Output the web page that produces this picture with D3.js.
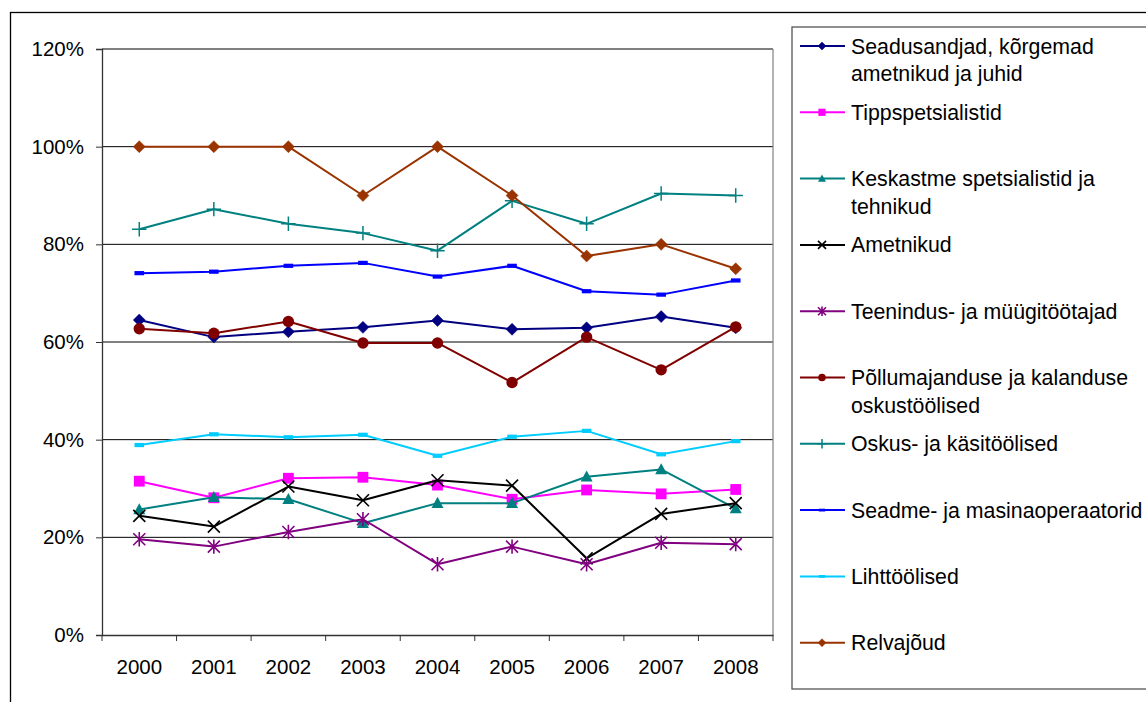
<!DOCTYPE html>
<html>
<head>
<meta charset="utf-8">
<script src="https://cdn.jsdelivr.net/npm/d3@7"></script>
<style>
  html, body { margin: 0; padding: 0; background: #fff; }
  svg { display: block; font-family: "Liberation Sans", Arial, sans-serif; }
</style>
</head>
<body>
<svg id="chart" width="1146" height="702"></svg>
<script>
// ---- data ----
const years = ["2000", "2001", "2002", "2003", "2004", "2005", "2006", "2007", "2008"];
const yTicks = [0, 0.2, 0.4, 0.6, 0.8, 1.0, 1.2];

const seadusandjad = [64.5, 61.0, 62.1, 63.0, 64.4, 62.6, 62.9, 65.2, 62.9];
const tippspetsialistid = [31.5, 28.1, 32.1, 32.3, 30.7, 27.8, 29.7, 28.9, 29.8];
const keskastme = [25.7, 28.2, 27.8, 22.9, 27.0, 27.0, 32.4, 33.9, 25.9];
const ametnikud = [24.4, 22.2, 30.4, 27.6, 31.7, 30.6, 15.7, 24.8, 27.0];
const teenindus = [19.6, 18.1, 21.1, 23.7, 14.5, 18.1, 14.5, 18.9, 18.6];
const pollumajandus = [62.7, 61.8, 64.2, 59.8, 59.8, 51.7, 61.0, 54.3, 63.1];
const oskus = [83.1, 87.2, 84.2, 82.3, 78.7, 88.9, 84.2, 90.4, 90.0];
const seadme = [74.1, 74.4, 75.6, 76.2, 73.4, 75.6, 70.4, 69.7, 72.6];
const lihttoolised = [38.9, 41.1, 40.5, 41.0, 36.7, 40.6, 41.8, 37.0, 39.7];
const relvajoud = [100, 100, 100, 90, 100, 90, 77.6, 80, 75];

const seriesNames = [
  ["Seadusandjad, kõrgemad", "ametnikud ja juhid"],
  ["Tippspetsialistid"],
  ["Keskastme spetsialistid ja", "tehnikud"],
  ["Ametnikud"],
  ["Teenindus- ja müügitöötajad"],
  ["Põllumajanduse ja kalanduse", "oskustöölised"],
  ["Oskus- ja käsitöölised"],
  ["Seadme- ja masinaoperaatorid"],
  ["Lihttöölised"],
  ["Relvajõud"]
];
const seriesValues = [seadusandjad, tippspetsialistid, keskastme, ametnikud, teenindus,
  pollumajandus, oskus, seadme, lihttoolised, relvajoud];
const seriesColors = ["#000080", "#FF00FF", "#008080", "#000000", "#800080",
  "#800000", "#008080", "#0000FF", "#00CCFF", "#993300"];
const seriesMarkers = ["diamond", "square", "triangle", "x", "asterisk",
  "circle", "plus", "dash", "dash", "diamond"];

// ---- layout ----
const svg = d3.select("#chart");
const plot = { left: 102, right: 773, top: 49, bottom: 635 };

const x = d3.scaleBand().domain(years).range([plot.left, plot.right]).paddingInner(0).paddingOuter(0);
const cx = d => x(d) + x.bandwidth() / 2;
const y = d3.scaleLinear().domain([0, 1.2]).range([plot.bottom, plot.top]);

// outer border
svg.append("rect").attr("x", 10.5).attr("y", 12.5).attr("width", 1200).attr("height", 800)
  .attr("fill", "none").attr("stroke", "#000").attr("stroke-width", 1.3);

// gridlines
svg.append("g").selectAll("line").data(yTicks.filter(t => t > 0)).join("line")
  .attr("x1", plot.left).attr("x2", plot.right)
  .attr("y1", d => y(d)).attr("y2", d => y(d))
  .attr("stroke", "#000").attr("stroke-width", 1);

// plot right border
svg.append("line").attr("x1", plot.right).attr("x2", plot.right)
  .attr("y1", plot.top).attr("y2", plot.bottom).attr("stroke", "#808080").attr("stroke-width", 1.2);

// y axis
const yAxis = svg.append("g").attr("transform", `translate(${plot.left},0)`)
  .call(d3.axisLeft(y).tickValues(yTicks).tickFormat(d3.format(".0%")).tickSizeOuter(0).tickSize(6).tickPadding(12));
yAxis.select(".domain").attr("stroke", "#333").attr("stroke-width", 1.3);
yAxis.selectAll(".tick line").attr("stroke", "#333");
yAxis.selectAll("text").attr("font-size", 20.5).attr("fill", "#000")
  .attr("font-family", "'Liberation Sans', Arial, sans-serif");

// x axis
const xAxis = svg.append("g").attr("transform", `translate(0,${plot.bottom})`)
  .call(d3.axisBottom(x).tickSize(0).tickSizeOuter(0).tickPadding(24));
xAxis.select(".domain").attr("stroke", "#333").attr("stroke-width", 1.3);
xAxis.selectAll("text").attr("font-size", 20.5).attr("fill", "#000")
  .attr("font-family", "'Liberation Sans', Arial, sans-serif");
// tick marks at category boundaries
const boundaries = years.map(d => x(d)).concat([x(years[years.length - 1]) + x.bandwidth()]);
xAxis.selectAll(".bnd").data(boundaries).join("line").attr("class", "bnd")
  .attr("x1", d => d).attr("x2", d => d).attr("y1", 0).attr("y2", 6)
  .attr("stroke", "#333").attr("stroke-width", 1);

// marker drawing
function drawMarker(g, type, color, s) {
  switch (type) {
    case "diamond":
      g.append("path").attr("d", `M0,${-s}L${s},0L0,${s}L${-s},0Z`).attr("fill", color).attr("stroke", color).attr("stroke-width", 0.5);
      break;
    case "square":
      g.append("rect").attr("x", -s * 0.9).attr("y", -s * 0.9).attr("width", s * 1.8).attr("height", s * 1.8).attr("fill", color);
      break;
    case "triangle":
      g.append("path").attr("d", `M0,${-s * 1.05}L${s},${s * 0.8}L${-s},${s * 0.8}Z`).attr("fill", color);
      break;
    case "circle":
      g.append("circle").attr("r", s * 0.95).attr("fill", color);
      break;
    case "x":
      g.append("path").attr("d", `M${-s},${-s}L${s},${s}M${-s},${s}L${s},${-s}`).attr("stroke", color).attr("stroke-width", 1.6).attr("fill", "none");
      break;
    case "asterisk":
      g.append("path").attr("d", `M${-s},${-s}L${s},${s}M${-s},${s}L${s},${-s}M0,${-s * 1.2}L0,${s * 1.2}`).attr("stroke", color).attr("stroke-width", 1.6).attr("fill", "none");
      break;
    case "plus":
      g.append("path").attr("d", `M${-s * 1.2},0L${s * 1.2},0M0,${-s * 1.2}L0,${s * 1.2}`).attr("stroke", color).attr("stroke-width", 1.5).attr("fill", "none");
      break;
    case "dash":
      g.append("rect").attr("x", -s * 0.8).attr("y", -s * 0.35).attr("width", s * 1.6).attr("height", s * 0.7).attr("fill", color);
      break;
  }
}

// series lines + markers
const line = d3.line().x(d => cx(d[0])).y(d => y(d[1] / 100));
seriesValues.forEach((vals, i) => {
  const pts = years.map((yr, j) => [yr, vals[j]]);
  const g = svg.append("g");
  g.append("path").datum(pts).attr("d", line)
    .attr("fill", "none").attr("stroke", seriesColors[i]).attr("stroke-width", 2)
    .attr("stroke-linejoin", "round");
  g.selectAll("g.m").data(pts).join("g").attr("class", "m")
    .attr("transform", d => `translate(${cx(d[0])},${y(d[1] / 100)})`)
    .each(function () { drawMarker(d3.select(this), seriesMarkers[i], seriesColors[i], 6); });
});

// legend
const legend = svg.append("g");
legend.append("rect").attr("x", 792).attr("y", 27).attr("width", 500).attr("height", 662)
  .attr("fill", "#fff").attr("stroke", "#555").attr("stroke-width", 1.3);
seriesNames.forEach((lines, i) => {
  const yy = 46 + i * 66.3;
  const g = legend.append("g");
  g.append("line").attr("x1", 800).attr("x2", 845).attr("y1", yy).attr("y2", yy)
    .attr("stroke", seriesColors[i]).attr("stroke-width", 2);
  const m = g.append("g").attr("transform", `translate(822,${yy})`);
  drawMarker(m, seriesMarkers[i], seriesColors[i], 4);
  const t = g.append("text").attr("x", 851).attr("y", yy + 7.5)
    .attr("font-size", 21.3).attr("fill", "#000");
  lines.forEach((ln, k) => {
    t.append("tspan").attr("x", 851).attr("dy", k === 0 ? 0 : 27.5).text(ln);
  });
});
</script>
</body>
</html>
